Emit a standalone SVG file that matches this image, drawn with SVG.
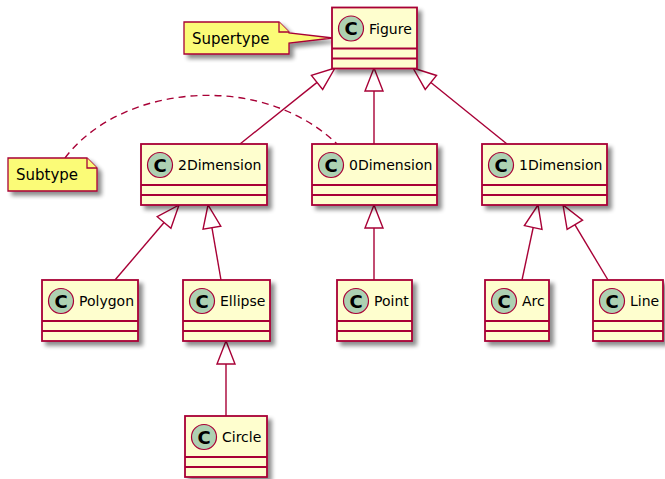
<svg xmlns="http://www.w3.org/2000/svg" width="665" height="479" viewBox="0 0 665 479">
  <defs>
    <filter id="shadow" x="-20%" y="-20%" width="150%" height="150%">
      <feGaussianBlur in="SourceAlpha" stdDeviation="2"/>
      <feOffset dx="4" dy="4" result="blur"/>
      <feComponentTransfer><feFuncA type="linear" slope="0.45"/></feComponentTransfer>
      <feMerge><feMergeNode/><feMergeNode in="SourceGraphic"/></feMerge>
    </filter>
  </defs>
  <style>
    .box { fill: #FEFECE; stroke: #A80036; stroke-width: 1.8; }
    .div { stroke: #A80036; stroke-width: 1.8; }
    .icon { fill: #ADD1B2; stroke: #A80036; stroke-width: 1.2; }
    .iconC { font-family: "DejaVu Sans", "Liberation Sans", sans-serif; font-size: 18px; font-weight: bold; fill: #000; text-anchor: middle; }
    .name { font-family: "DejaVu Sans", "Liberation Sans", sans-serif; font-size: 14px; fill: #000; }
    .noteText { font-family: "DejaVu Sans", "Liberation Sans", sans-serif; font-size: 15px; fill: #000; }
    .note { fill: #FBFB77; stroke: #A80036; stroke-width: 1.3; }
    .edge { stroke: #A80036; stroke-width: 1.4; fill: none; }
    .head { stroke: #A80036; stroke-width: 1.4; fill: #FFFFFF; }
    .dash { stroke: #A80036; stroke-width: 1.4; fill: none; stroke-dasharray: 7 5; }
  </style>

  <!-- inheritance connectors -->
  <g id="connectors">
    <line class="edge" x1="240" y1="144" x2="317.04" y2="82.37"/>
    <polygon class="head" points="335,68 322.66,89.40 311.42,75.34"/>
    <line class="edge" x1="374" y1="144" x2="374" y2="91"/>
    <polygon class="head" points="374,68 365,91 383,91"/>
    <line class="edge" x1="507" y1="144" x2="430.88" y2="82.46"/>
    <polygon class="head" points="413,68 425.22,89.46 436.54,75.46"/>
    <line class="edge" x1="115" y1="280" x2="164.07" y2="222.5"/>
    <polygon class="head" points="179,205 157.22,216.66 170.92,228.34"/>
    <line class="edge" x1="221" y1="280" x2="211.93" y2="227.66"/>
    <polygon class="head" points="208,205 203.06,229.2 220.8,226.12"/>
    <line class="edge" x1="374" y1="280" x2="374" y2="228"/>
    <polygon class="head" points="374,205 365,228 383,228"/>
    <line class="edge" x1="522" y1="280" x2="533.2" y2="227.49"/>
    <polygon class="head" points="538,205 524.4,225.61 542,229.37"/>
    <line class="edge" x1="608" y1="280" x2="574.83" y2="224.72"/>
    <polygon class="head" points="563,205 567.11,229.35 582.55,220.09"/>
    <line class="edge" x1="226" y1="416" x2="226" y2="364"/>
    <polygon class="head" points="226,341 217,364 235,364"/>
    <!-- note link from Subtype to 0Dimension -->
    <path class="dash" d="M65,158 C120,85 260,70 337,144"/>
  </g>

  <!-- notes -->
  <g id="note-supertype">
    <path class="note" filter="url(#shadow)" d="M184,22 L279,22 L289,32 L289,33 L333,38 L289,43 L289,54 L184,54 Z"/>
    <path class="note" d="M279,22 L279,32 L289,32"/>
    <text class="noteText" x="192" y="43.5">Supertype</text>
  </g>
  <g id="note-subtype">
    <path class="note" filter="url(#shadow)" d="M8,158 L87,158 L97,168 L97,191 L8,191 Z"/>
    <path class="note" d="M87,158 L87,168 L97,168"/>
    <text class="noteText" x="16" y="180">Subtype</text>
  </g>

  <!-- classes -->
  <g id="Figure">
    <rect class="box" filter="url(#shadow)" x="332" y="7.5" width="85" height="61"/>
    <line class="div" x1="332" y1="48.5" x2="417" y2="48.5"/>
    <line class="div" x1="332" y1="58.5" x2="417" y2="58.5"/>
    <circle class="icon" cx="351" cy="28.5" r="12.5"/>
    <text class="iconC" x="351" y="35">C</text>
    <text class="name" x="369" y="33.5">Figure</text>
  </g>
  <g id="Dimension2">
    <rect class="box" filter="url(#shadow)" x="141" y="144" width="126" height="61"/>
    <line class="div" x1="141" y1="185" x2="267" y2="185"/>
    <line class="div" x1="141" y1="195" x2="267" y2="195"/>
    <circle class="icon" cx="160" cy="165" r="12.5"/>
    <text class="iconC" x="160" y="171.5">C</text>
    <text class="name" x="178" y="170">2Dimension</text>
  </g>
  <g id="Dimension0">
    <rect class="box" filter="url(#shadow)" x="312" y="144" width="125" height="61"/>
    <line class="div" x1="312" y1="185" x2="437" y2="185"/>
    <line class="div" x1="312" y1="195" x2="437" y2="195"/>
    <circle class="icon" cx="331" cy="165" r="12.5"/>
    <text class="iconC" x="331" y="171.5">C</text>
    <text class="name" x="349" y="170">0Dimension</text>
  </g>
  <g id="Dimension1">
    <rect class="box" filter="url(#shadow)" x="482" y="144" width="125" height="61"/>
    <line class="div" x1="482" y1="185" x2="607" y2="185"/>
    <line class="div" x1="482" y1="195" x2="607" y2="195"/>
    <circle class="icon" cx="501" cy="165" r="12.5"/>
    <text class="iconC" x="501" y="171.5">C</text>
    <text class="name" x="519" y="170">1Dimension</text>
  </g>
  <g id="Polygon">
    <rect class="box" filter="url(#shadow)" x="42" y="280" width="96" height="61"/>
    <line class="div" x1="42" y1="321" x2="138" y2="321"/>
    <line class="div" x1="42" y1="331" x2="138" y2="331"/>
    <circle class="icon" cx="61" cy="301" r="12.5"/>
    <text class="iconC" x="61" y="307.5">C</text>
    <text class="name" x="79" y="306">Polygon</text>
  </g>
  <g id="Ellipse">
    <rect class="box" filter="url(#shadow)" x="183" y="280" width="87" height="61"/>
    <line class="div" x1="183" y1="321" x2="270" y2="321"/>
    <line class="div" x1="183" y1="331" x2="270" y2="331"/>
    <circle class="icon" cx="202" cy="301" r="12.5"/>
    <text class="iconC" x="202" y="307.5">C</text>
    <text class="name" x="220" y="306">Ellipse</text>
  </g>
  <g id="Point">
    <rect class="box" filter="url(#shadow)" x="337" y="280" width="75" height="61"/>
    <line class="div" x1="337" y1="321" x2="412" y2="321"/>
    <line class="div" x1="337" y1="331" x2="412" y2="331"/>
    <circle class="icon" cx="356" cy="301" r="12.5"/>
    <text class="iconC" x="356" y="307.5">C</text>
    <text class="name" x="374" y="306">Point</text>
  </g>
  <g id="Arc">
    <rect class="box" filter="url(#shadow)" x="485" y="280" width="64" height="61"/>
    <line class="div" x1="485" y1="321" x2="549" y2="321"/>
    <line class="div" x1="485" y1="331" x2="549" y2="331"/>
    <circle class="icon" cx="504" cy="301" r="12.5"/>
    <text class="iconC" x="504" y="307.5">C</text>
    <text class="name" x="522" y="306">Arc</text>
  </g>
  <g id="Line">
    <rect class="box" filter="url(#shadow)" x="593" y="280" width="70" height="61"/>
    <line class="div" x1="593" y1="321" x2="663" y2="321"/>
    <line class="div" x1="593" y1="331" x2="663" y2="331"/>
    <circle class="icon" cx="612" cy="301" r="12.5"/>
    <text class="iconC" x="612" y="307.5">C</text>
    <text class="name" x="630" y="306">Line</text>
  </g>
  <g id="Circle">
    <rect class="box" filter="url(#shadow)" x="185" y="416" width="82" height="61"/>
    <line class="div" x1="185" y1="457" x2="267" y2="457"/>
    <line class="div" x1="185" y1="467" x2="267" y2="467"/>
    <circle class="icon" cx="204" cy="437" r="12.5"/>
    <text class="iconC" x="204" y="443.5">C</text>
    <text class="name" x="222" y="442">Circle</text>
  </g>
</svg>
